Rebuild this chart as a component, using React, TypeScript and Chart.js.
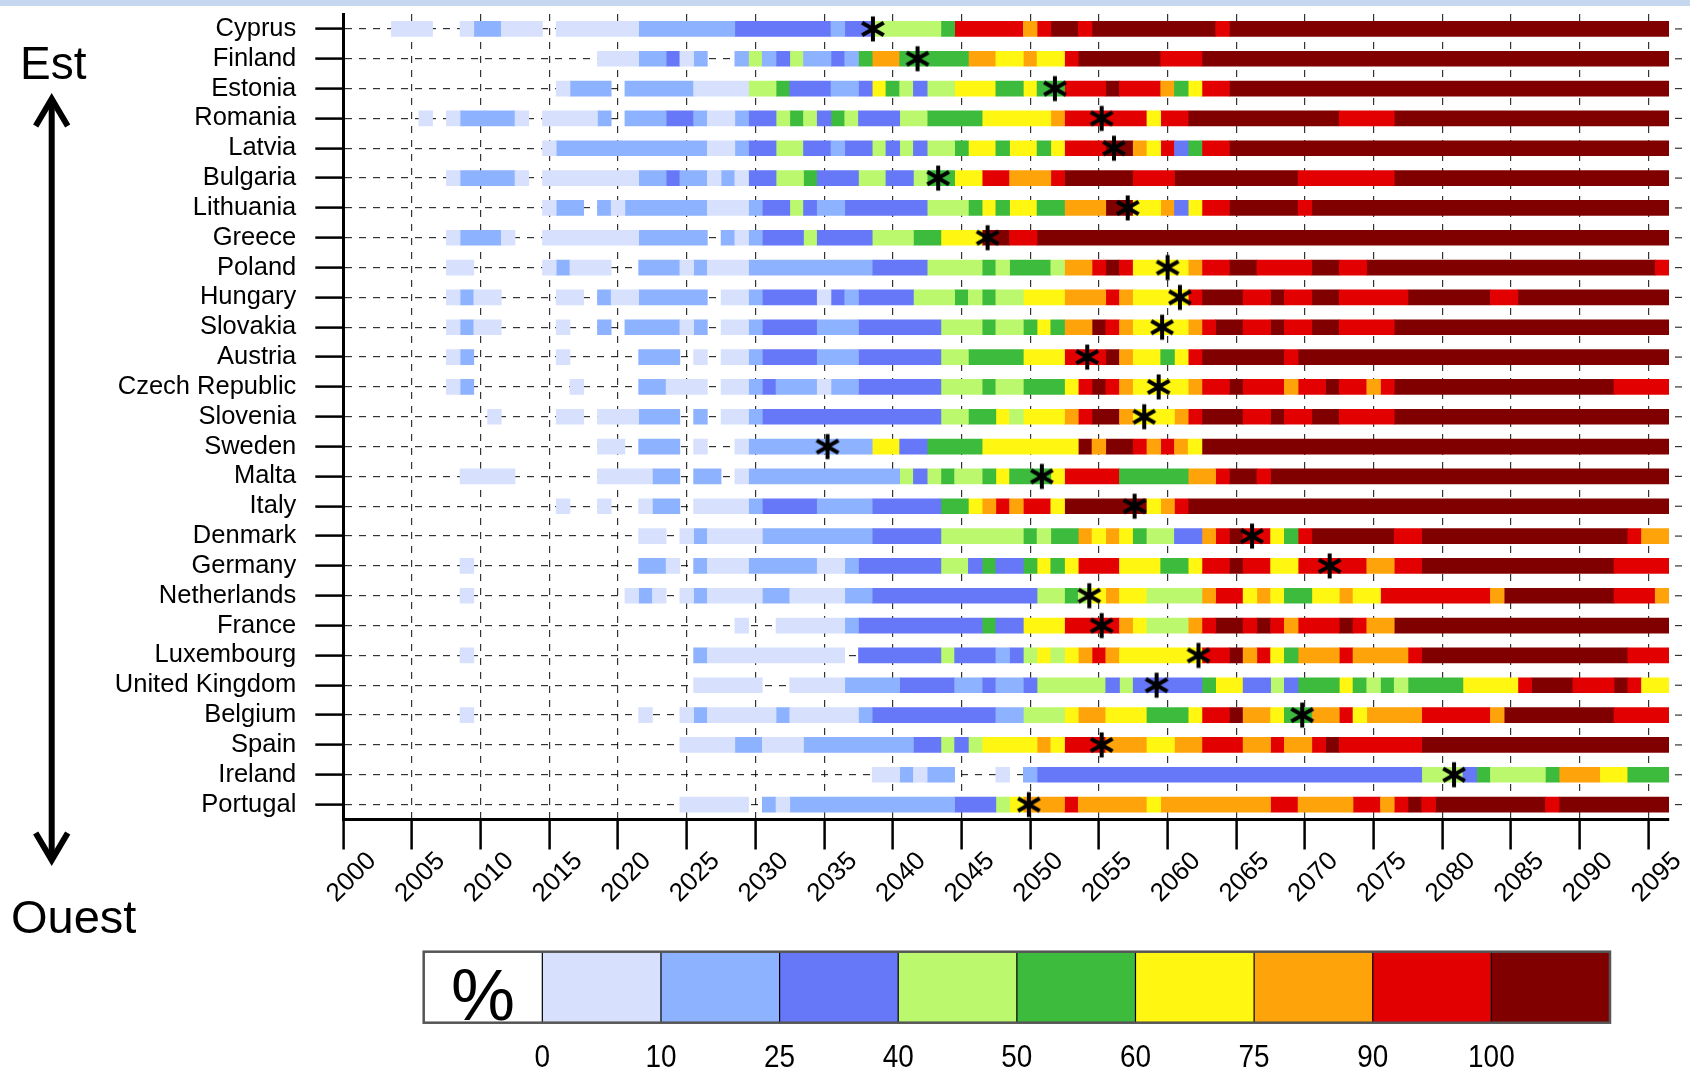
import React, { useEffect, useRef } from 'react';
import { Chart, registerables } from 'chart.js';
Chart.register(...registerables);

const FONT = "'Liberation Sans', Arial, Helvetica, sans-serif";

const countries = [
  'Cyprus', 'Finland', 'Estonia', 'Romania', 'Latvia', 'Bulgaria', 'Lithuania', 'Greece', 'Poland',
  'Hungary', 'Slovakia', 'Austria', 'Czech Republic', 'Slovenia', 'Sweden', 'Malta', 'Italy', 'Denmark',
  'Germany', 'Netherlands', 'France', 'Luxembourg', 'United Kingdom', 'Belgium', 'Spain', 'Ireland', 'Portugal',
];

// "startYear:class" transitions, class 0 = no data, 1..9 = colour classes; each row runs to lastYear
const rowCodes = [
  '2004:1 2007:0 2009:1 2010:2 2012:1 2015:0 2016:1 2022:2 2029:3 2036:2 2037:3 2039:4 2044:5 2045:8 2050:7 2051:8 2052:9 2054:8 2055:9 2064:8 2065:9',
  '2019:1 2022:2 2024:3 2025:1 2026:2 2027:0 2029:2 2030:4 2031:2 2032:3 2033:4 2034:2 2036:3 2037:2 2038:5 2039:7 2041:5 2046:7 2048:6 2050:7 2051:6 2053:8 2054:9 2060:8 2063:9',
  '2016:1 2017:2 2020:0 2021:2 2026:1 2030:4 2032:5 2033:3 2036:2 2038:3 2039:6 2040:5 2041:4 2042:3 2043:4 2045:6 2048:5 2050:6 2051:5 2053:8 2056:9 2057:8 2060:7 2061:5 2062:6 2063:8 2065:9',
  '2006:1 2007:0 2008:1 2009:2 2013:1 2014:0 2015:1 2019:2 2020:0 2021:2 2024:3 2026:2 2027:1 2029:2 2030:3 2032:4 2033:5 2034:4 2035:3 2036:5 2037:4 2038:3 2041:4 2043:5 2047:6 2052:7 2053:8 2059:6 2060:8 2062:9 2073:8 2077:9',
  '2015:1 2016:2 2027:1 2029:2 2030:3 2032:4 2034:3 2036:2 2037:3 2039:4 2040:3 2041:4 2042:3 2043:4 2045:5 2046:6 2048:5 2049:6 2051:5 2052:6 2053:8 2056:9 2058:7 2059:6 2060:8 2061:3 2062:5 2063:8 2065:9',
  '2008:1 2009:2 2013:1 2014:0 2015:1 2022:2 2024:3 2025:2 2027:1 2028:2 2029:1 2030:3 2032:4 2034:5 2035:3 2038:4 2040:3 2042:4 2043:5 2045:6 2047:8 2049:7 2052:8 2053:9 2058:8 2061:9 2070:8 2077:9',
  '2015:1 2016:2 2018:0 2019:2 2020:1 2021:2 2027:1 2030:2 2031:3 2033:4 2034:3 2035:2 2037:3 2043:4 2046:5 2047:6 2048:5 2049:6 2051:5 2053:7 2056:9 2058:6 2060:7 2061:3 2062:6 2063:8 2065:9 2070:8 2071:9',
  '2008:1 2009:2 2012:1 2013:0 2015:1 2022:2 2027:0 2028:2 2029:1 2030:2 2031:3 2034:4 2035:3 2039:4 2042:5 2044:6 2047:9 2049:8 2051:9',
  '2008:1 2010:0 2015:1 2016:2 2017:1 2020:0 2022:2 2025:1 2026:2 2027:1 2030:2 2039:3 2043:4 2047:5 2048:4 2049:5 2052:4 2053:7 2055:8 2056:9 2057:8 2058:6 2062:7 2063:8 2065:9 2067:8 2071:9 2073:8 2075:9 2096:8',
  '2008:1 2009:2 2010:1 2012:0 2016:1 2018:0 2019:2 2020:1 2022:2 2027:0 2028:1 2030:2 2031:3 2035:1 2036:3 2037:2 2038:3 2042:4 2045:5 2046:4 2047:5 2048:4 2050:6 2053:7 2056:8 2057:7 2058:6 2062:8 2063:9 2066:8 2068:9 2069:8 2071:9 2073:8 2078:9 2084:8 2086:9',
  '2008:1 2009:2 2010:1 2012:0 2016:1 2017:0 2019:2 2020:0 2021:2 2025:1 2026:2 2027:0 2028:1 2030:2 2031:3 2035:2 2038:3 2044:4 2047:5 2048:4 2050:5 2051:6 2052:5 2053:7 2055:9 2056:8 2057:7 2058:6 2062:7 2063:8 2064:9 2066:8 2068:9 2069:8 2071:9 2073:8 2077:9',
  '2008:1 2009:2 2010:0 2016:1 2017:0 2022:2 2025:0 2026:1 2027:0 2028:1 2030:2 2031:3 2035:2 2038:3 2044:4 2046:5 2050:6 2053:8 2056:9 2057:7 2058:6 2060:5 2061:6 2062:8 2063:9 2069:8 2070:9',
  '2008:1 2009:2 2010:0 2017:1 2018:0 2022:2 2024:1 2027:0 2028:1 2030:2 2031:3 2032:2 2035:1 2036:2 2038:3 2044:4 2047:5 2048:4 2050:5 2053:6 2054:8 2055:9 2056:8 2057:7 2058:6 2062:7 2063:8 2065:9 2066:8 2069:7 2070:8 2072:9 2073:8 2075:7 2076:8 2077:9 2093:8',
  '2011:1 2012:0 2016:1 2018:0 2019:1 2022:2 2025:0 2026:2 2027:0 2028:1 2030:2 2031:3 2044:4 2046:5 2048:6 2049:4 2050:6 2053:7 2054:8 2055:9 2057:7 2058:6 2061:7 2062:8 2063:9 2066:8 2068:9 2069:8 2071:9 2073:8 2077:9',
  '2019:1 2021:0 2022:2 2025:0 2026:1 2027:0 2029:1 2030:2 2039:6 2041:3 2043:5 2047:6 2054:9 2055:7 2056:9 2058:8 2059:7 2060:8 2061:7 2062:6 2063:9',
  '2009:1 2013:0 2019:1 2023:2 2025:0 2026:2 2028:0 2029:1 2030:2 2041:4 2042:3 2043:4 2044:5 2045:4 2047:5 2048:6 2049:5 2052:6 2053:8 2057:5 2062:7 2064:8 2065:9 2067:8 2068:9',
  '2016:1 2017:0 2019:1 2020:0 2022:1 2023:2 2025:0 2026:1 2030:2 2031:3 2035:2 2039:3 2044:5 2046:6 2047:7 2048:8 2049:7 2050:8 2052:6 2053:9 2059:6 2060:7 2061:8 2062:9',
  '2022:1 2024:0 2025:1 2026:2 2027:1 2031:2 2039:3 2044:4 2050:5 2051:4 2052:5 2054:7 2055:6 2056:7 2057:6 2058:5 2059:4 2061:3 2063:7 2064:8 2065:9 2066:8 2068:6 2069:5 2070:8 2071:9 2077:8 2079:9 2094:8 2095:7',
  '2009:1 2010:0 2022:2 2024:1 2025:0 2026:2 2027:1 2030:2 2035:1 2037:2 2038:3 2044:4 2046:3 2047:5 2048:3 2050:5 2051:6 2052:5 2053:6 2054:8 2057:6 2060:5 2062:6 2063:8 2065:9 2066:8 2068:6 2070:8 2075:7 2077:8 2079:9 2093:8',
  '2009:1 2010:0 2021:1 2022:2 2023:1 2024:0 2025:1 2026:2 2027:1 2031:2 2033:1 2037:2 2039:3 2051:4 2053:5 2054:4 2055:6 2056:7 2057:6 2059:4 2063:7 2064:8 2066:6 2067:7 2068:6 2069:5 2071:6 2073:7 2074:6 2076:8 2084:7 2085:9 2093:8 2096:7',
  '2029:1 2030:0 2032:1 2037:2 2038:3 2047:5 2048:3 2050:6 2053:8 2057:7 2058:6 2059:4 2062:7 2063:8 2064:9 2066:8 2067:9 2068:8 2069:7 2070:8 2073:9 2074:8 2075:7 2077:9',
  '2009:1 2010:0 2026:2 2027:1 2037:0 2038:3 2044:4 2045:3 2048:2 2049:3 2050:4 2051:6 2052:4 2053:6 2054:7 2055:8 2056:7 2057:6 2063:8 2065:9 2066:7 2067:8 2068:6 2069:5 2070:7 2073:8 2074:7 2078:8 2079:9 2094:8',
  '2026:1 2031:0 2033:1 2037:2 2041:3 2045:2 2047:3 2048:2 2050:3 2051:4 2056:3 2057:4 2058:3 2063:5 2064:6 2066:3 2068:4 2069:3 2070:5 2073:6 2074:5 2075:4 2076:5 2077:4 2078:5 2082:6 2086:8 2087:9 2090:8 2093:9 2094:8 2095:6',
  '2009:1 2010:0 2022:1 2023:0 2025:1 2026:2 2027:1 2032:2 2033:1 2038:2 2039:3 2048:2 2050:4 2053:6 2054:7 2056:6 2059:5 2062:6 2063:8 2065:9 2066:7 2068:6 2069:5 2071:7 2073:8 2074:6 2075:7 2079:8 2084:7 2085:9 2093:8',
  '2025:1 2029:2 2031:1 2034:2 2042:3 2044:4 2045:3 2046:4 2047:6 2051:7 2052:6 2053:8 2056:7 2059:6 2061:7 2063:8 2066:7 2068:8 2069:7 2071:8 2072:9 2073:8 2079:9',
  '2039:1 2041:2 2042:1 2043:2 2045:0 2048:1 2049:0 2050:2 2051:3 2079:4 2082:3 2083:5 2084:4 2088:5 2089:7 2092:6 2094:5',
  '2025:1 2030:0 2031:2 2032:1 2033:2 2045:3 2048:4 2049:6 2050:7 2053:8 2054:7 2059:6 2060:7 2068:8 2070:7 2074:8 2076:7 2077:8 2078:9 2079:8 2080:9 2088:8 2089:9',
];
const lastYear = 2096;

const starYears = [
  2038.55, 2041.8, 2051.8, 2055.2, 2056.1, 2043.3, 2057.1, 2046.9, 2060.0,
  2060.9, 2059.6, 2054.15, 2059.35, 2058.3, 2035.25, 2050.85, 2057.6, 2066.15,
  2071.8, 2054.3, 2055.2, 2062.25, 2059.2, 2069.8, 2055.2, 2080.85, 2049.9,
];

const classColors = ['#ffffff', '#d7e1fd', '#8db2ff', '#6677f8', '#bbf86e', '#3dbb3d', '#fff712', '#ffa30a', '#e30000', '#800000'];
const classNames = ['', '0-10', '10-25', '25-40', '40-50', '50-60', '60-75', '75-90', '90-100', '100'];
const colorbarLabels = ['0', '10', '25', '40', '50', '60', '75', '90', '100'];
const yearTicks = [2000, 2005, 2010, 2015, 2020, 2025, 2030, 2035, 2040, 2045, 2050, 2055, 2060, 2065, 2070, 2075, 2080, 2085, 2090, 2095];

function parseRow(code: string) {
  const parts = code.trim().split(/\s+/).map((p) => p.split(':').map(Number));
  const segs: { from: number; to: number; cat: number }[] = [];
  for (let i = 0; i < parts.length; i++) {
    const [from, cat] = parts[i];
    const to = i + 1 < parts.length ? parts[i + 1][0] - 1 : lastYear;
    if (cat > 0) segs.push({ from, to, cat });
  }
  return segs;
}

function makeStar() {
  const c = document.createElement('canvas');
  c.width = 28;
  c.height = 28;
  const g = c.getContext('2d')!;
  g.strokeStyle = '#000';
  g.lineWidth = 4;
  const r = 12.5;
  for (const a of [90, 30, 150]) {
    const rad = (a * Math.PI) / 180;
    g.beginPath();
    g.moveTo(14 - r * Math.cos(rad), 14 - r * Math.sin(rad));
    g.lineTo(14 + r * Math.cos(rad), 14 + r * Math.sin(rad));
    g.stroke();
  }
  return c;
}

const decorPlugin = {
  id: 'decor',
  afterDraw(chart: any) {
    const ctx = chart.ctx as CanvasRenderingContext2D;
    const xs = chart.scales.x;
    const ys = chart.scales.y;
    const area = chart.chartArea;
    ctx.save();
    // row dash stubs beyond the end of the bars
    ctx.strokeStyle = 'rgba(0,0,0,0.8)';
    ctx.lineWidth = 1.2;
    countries.forEach((_, i) => {
      const py = ys.getPixelForValue(i);
      ctx.beginPath();
      ctx.moveTo(area.right + 6, py);
      ctx.lineTo(area.right + 13, py);
      ctx.stroke();
    });
    // rotated year labels
    ctx.fillStyle = '#000';
    ctx.font = `26px ${FONT}`;
    ctx.textAlign = 'center';
    ctx.textBaseline = 'middle';
    yearTicks.forEach((y) => {
      const px = xs.getPixelForValue(y);
      ctx.save();
      ctx.translate(px + 8.5, 877.5);
      ctx.rotate(-Math.PI / 4);
      ctx.fillText(String(y), 0, 0);
      ctx.restore();
    });
    // East / West arrow
    ctx.strokeStyle = '#000';
    ctx.lineWidth = 6;
    ctx.lineJoin = 'miter';
    const ax = 51.7;
    ctx.beginPath();
    ctx.moveTo(ax, 100);
    ctx.lineTo(ax, 859);
    ctx.stroke();
    ctx.beginPath();
    ctx.moveTo(ax - 16, 126);
    ctx.lineTo(ax, 99);
    ctx.lineTo(ax + 16, 126);
    ctx.stroke();
    ctx.beginPath();
    ctx.moveTo(ax - 16, 833);
    ctx.lineTo(ax, 860);
    ctx.lineTo(ax + 16, 833);
    ctx.stroke();
    ctx.textAlign = 'left';
    ctx.textBaseline = 'alphabetic';
    ctx.font = `46px ${FONT}`;
    ctx.fillText('Est', 20, 79);
    ctx.font = `47px ${FONT}`;
    ctx.fillText('Ouest', 11, 933);
    // colour bar
    const cbL = 423.7, cbT = 951.7, cbW = 118.63, cbH = 71;
    classColors.forEach((c, i) => {
      ctx.fillStyle = c;
      ctx.fillRect(cbL + i * cbW, cbT, cbW, cbH);
    });
    ctx.strokeStyle = '#000';
    ctx.lineWidth = 1.2;
    for (let k = 1; k < classColors.length; k++) {
      const x = cbL + k * cbW;
      ctx.beginPath();
      ctx.moveTo(x, cbT);
      ctx.lineTo(x, cbT + cbH);
      ctx.stroke();
    }
    ctx.strokeStyle = '#555';
    ctx.lineWidth = 2.5;
    ctx.strokeRect(cbL, cbT, cbW * classColors.length, cbH);
    ctx.fillStyle = '#000';
    ctx.textAlign = 'center';
    ctx.font = `72px ${FONT}`;
    ctx.fillText('%', cbL + cbW / 2, cbT + cbH - 3);
    ctx.font = `31px ${FONT}`;
    ctx.textBaseline = 'alphabetic';
    colorbarLabels.forEach((t, k) => {
      ctx.save();
      ctx.translate(cbL + (k + 1) * cbW, 1066.5);
      ctx.scale(0.9, 1);
      ctx.fillText(t, 0, 0);
      ctx.restore();
    });
    ctx.restore();
  },
};

export default function App() {
  const ref = useRef<HTMLCanvasElement>(null);
  useEffect(() => {
    if (!ref.current) return;
    const star = makeStar();
    const rows = rowCodes.map(parseRow);
    const barSets: any[] = [];
    for (let cat = 1; cat < classColors.length; cat++) {
      const data: any[] = [];
      rows.forEach((segs, i) => {
        segs.forEach((s) => {
          if (s.cat === cat) data.push({ x: [s.from - 0.5, s.to + 0.5], y: countries[i] });
        });
      });
      barSets.push({
        type: 'bar',
        label: classNames[cat],
        data,
        backgroundColor: classColors[cat],
        borderWidth: 0,
        borderSkipped: false,
        barThickness: 15,
        grouped: false,
        order: 1,
      });
    }
    const chart = new Chart(ref.current, {
      type: 'bar',
      data: {
        labels: countries,
        datasets: [
          ...barSets,
          {
            type: 'scatter',
            label: 'marker',
            data: starYears.map((x, i) => ({ x, y: countries[i] })),
            pointStyle: star as any,
            pointRadius: 13,
            showLine: false,
            order: -1,
          } as any,
        ],
      },
      options: {
        indexAxis: 'y',
        animation: false,
        responsive: false,
        devicePixelRatio: 1,
        layout: { padding: { left: 0, right: 21, top: 11.5, bottom: 0 } },
        plugins: { legend: { display: false }, tooltip: { enabled: false } },
        scales: {
          x: {
            type: 'linear',
            min: 2000,
            max: 2096.5,
            z: 1,
            afterBuildTicks: (axis: any) => {
              axis.ticks = yearTicks.map((v) => ({ value: v }));
            },
            afterFit: (s: any) => {
              s.height = 249.5;
              s.paddingLeft = 0;
              s.paddingRight = 0;
            },
            ticks: { display: false },
            grid: {
              color: 'rgba(0,0,0,0.8)',
              lineWidth: 1.2,
              tickLength: 30,
              tickWidth: 2.5,
              tickColor: '#000',
            },
            border: { display: true, color: '#000', width: 3, dash: [7, 7] },
          },
          y: {
            type: 'category',
            offset: true,
            z: 1,
            afterFit: (s: any) => {
              s.width = 343.3;
              s.paddingTop = 0;
              s.paddingBottom = 0;
            },
            ticks: {
              autoSkip: false,
              padding: 19,
              color: '#000',
              font: { family: FONT, size: 25.5 },
            },
            grid: {
              offset: false,
              color: 'rgba(0,0,0,0.8)',
              lineWidth: 1.2,
              tickLength: 28,
              tickWidth: 2.5,
              tickColor: '#000',
            },
            border: { display: true, color: '#000', width: 3, dash: [7, 7] },
          },
        },
      } as any,
      plugins: [decorPlugin],
    });
    return () => chart.destroy();
  }, []);
  return (
    <div style={{ position: 'absolute', left: 0, top: 0, width: 1690, height: 1069, background: '#fff', overflow: 'hidden' }}>
      <div style={{ position: 'absolute', left: 0, top: 0, width: 1690, height: 6, background: '#c6d8ef' }} />
      <canvas ref={ref} width={1690} height={1069} style={{ display: 'block', width: 1690, height: 1069 }} />
    </div>
  );
}
